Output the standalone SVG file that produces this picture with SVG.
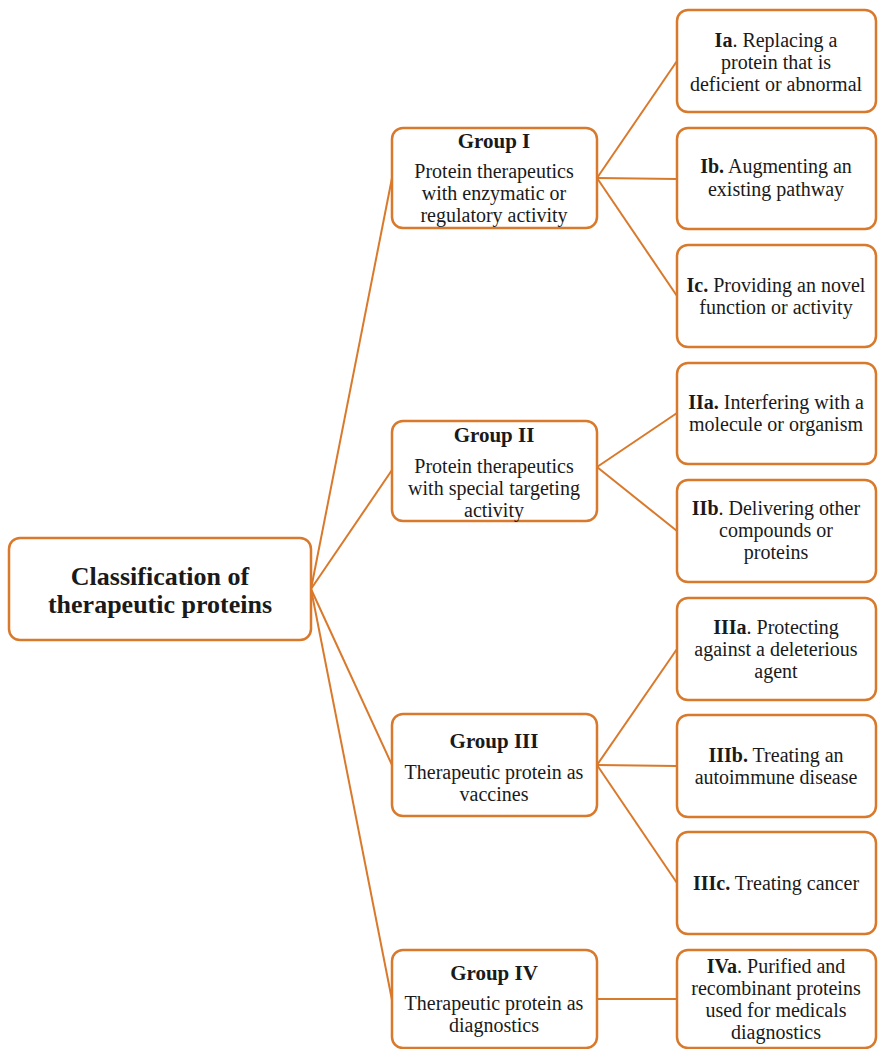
<svg xmlns="http://www.w3.org/2000/svg" width="878" height="1049" viewBox="0 0 878 1049">
  <style>
    .box { fill: #ffffff; stroke: #d9792b; stroke-width: 2.5; }
    .link { stroke: #d9792b; stroke-width: 2; fill: none; }
    text { font-family: "Liberation Serif", "Times New Roman", serif; font-size: 20px; fill: #1a1a1a; text-anchor: middle; }
    .b { font-weight: bold; }
    .title { font-size: 21px; font-weight: bold; }
    .root { font-size: 26px; font-weight: bold; }
  </style>
  <rect width="878" height="1049" fill="#ffffff"/>

  <g id="connectors">
    <line class="link" x1="311" y1="589" x2="392" y2="178"/>
    <line class="link" x1="311" y1="589" x2="392" y2="470"/>
    <line class="link" x1="311" y1="589" x2="392" y2="765"/>
    <line class="link" x1="311" y1="589" x2="392" y2="1000"/>
    <line class="link" x1="597" y1="178" x2="677" y2="61"/>
    <line class="link" x1="597" y1="178" x2="677" y2="179"/>
    <line class="link" x1="597" y1="178" x2="677" y2="296"/>
    <line class="link" x1="597" y1="467" x2="677" y2="413"/>
    <line class="link" x1="597" y1="467" x2="677" y2="531"/>
    <line class="link" x1="597" y1="765" x2="677" y2="649"/>
    <line class="link" x1="597" y1="765" x2="677" y2="766"/>
    <line class="link" x1="597" y1="765" x2="677" y2="883"/>
    <line class="link" x1="597" y1="999" x2="677" y2="999"/>
  </g>

  <g id="root">
    <rect class="box" x="9" y="538" width="302" height="102" rx="11"/>
    <text class="root" x="160" y="585">Classification of</text>
    <text class="root" x="160" y="613">therapeutic proteins</text>
  </g>

  <g id="group1">
    <rect class="box" x="392" y="128" width="205" height="100" rx="11"/>
    <text class="title" x="494" y="148">Group I</text>
    <text x="494" y="178">Protein therapeutics</text>
    <text x="494" y="200">with enzymatic or</text>
    <text x="494" y="222">regulatory activity</text>
  </g>

  <g id="group2">
    <rect class="box" x="392" y="421" width="205" height="100" rx="11"/>
    <text class="title" x="494" y="442">Group II</text>
    <text x="494" y="473">Protein therapeutics</text>
    <text x="494" y="495">with special targeting</text>
    <text x="494" y="517">activity</text>
  </g>

  <g id="group3">
    <rect class="box" x="392" y="714" width="205" height="102" rx="11"/>
    <text class="title" x="494" y="748">Group III</text>
    <text x="494" y="779">Therapeutic protein as</text>
    <text x="494" y="801">vaccines</text>
  </g>

  <g id="group4">
    <rect class="box" x="392" y="950" width="205" height="98" rx="11"/>
    <text class="title" x="494" y="980">Group IV</text>
    <text x="494" y="1010">Therapeutic protein as</text>
    <text x="494" y="1032">diagnostics</text>
  </g>

  <g id="ia">
    <rect class="box" x="677" y="10" width="199" height="102" rx="11"/>
    <text x="776" y="47"><tspan class="b">Ia</tspan>. Replacing a</text>
    <text x="776" y="69">protein that is</text>
    <text x="776" y="91">deficient or abnormal</text>
  </g>

  <g id="ib">
    <rect class="box" x="677" y="128" width="199" height="101" rx="11"/>
    <text x="776" y="173"><tspan class="b">Ib.</tspan> Augmenting an</text>
    <text x="776" y="196">existing pathway</text>
  </g>

  <g id="ic">
    <rect class="box" x="677" y="245" width="199" height="102" rx="11"/>
    <text x="776" y="292"><tspan class="b">Ic.</tspan> Providing an novel</text>
    <text x="776" y="314">function or activity</text>
  </g>

  <g id="iia">
    <rect class="box" x="677" y="363" width="199" height="101" rx="11"/>
    <text x="776" y="409"><tspan class="b">IIa.</tspan> Interfering with a</text>
    <text x="776" y="431">molecule or organism</text>
  </g>

  <g id="iib">
    <rect class="box" x="677" y="480" width="199" height="102" rx="11"/>
    <text x="776" y="515"><tspan class="b">IIb</tspan>. Delivering other</text>
    <text x="776" y="537">compounds or</text>
    <text x="776" y="559">proteins</text>
  </g>

  <g id="iiia">
    <rect class="box" x="677" y="598" width="199" height="102" rx="11"/>
    <text x="776" y="634"><tspan class="b">IIIa</tspan>. Protecting</text>
    <text x="776" y="656">against a deleterious</text>
    <text x="776" y="678">agent</text>
  </g>

  <g id="iiib">
    <rect class="box" x="677" y="715" width="199" height="102" rx="11"/>
    <text x="776" y="762"><tspan class="b">IIIb.</tspan> Treating an</text>
    <text x="776" y="784">autoimmune disease</text>
  </g>

  <g id="iiic">
    <rect class="box" x="677" y="832" width="199" height="102" rx="11"/>
    <text x="776" y="890"><tspan class="b">IIIc.</tspan> Treating cancer</text>
  </g>

  <g id="iva">
    <rect class="box" x="677" y="950" width="199" height="98" rx="11"/>
    <text x="776" y="973"><tspan class="b">IVa</tspan>. Purified and</text>
    <text x="776" y="995">recombinant proteins</text>
    <text x="776" y="1017">used for medicals</text>
    <text x="776" y="1039">diagnostics</text>
  </g>
</svg>
